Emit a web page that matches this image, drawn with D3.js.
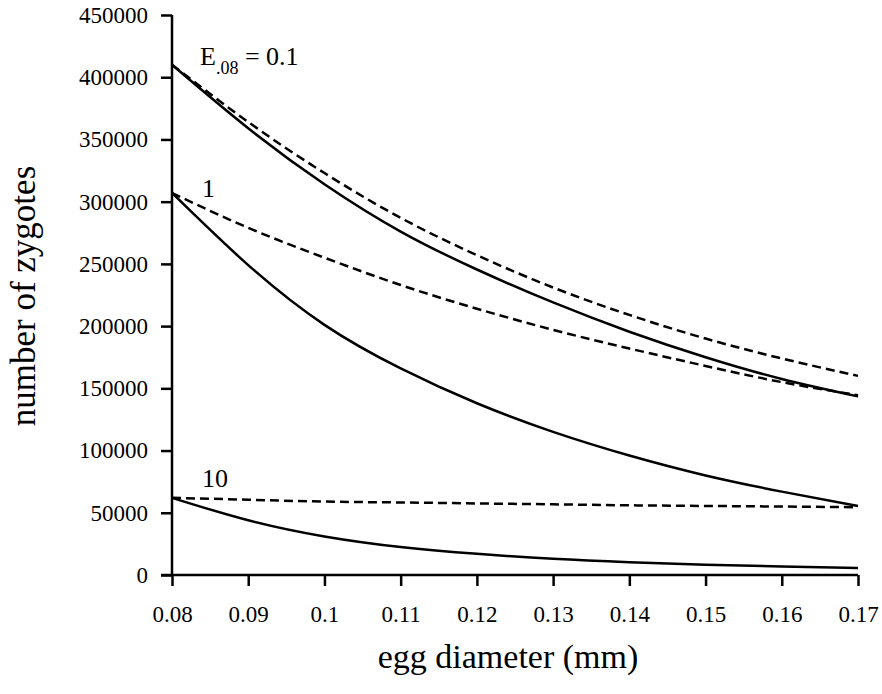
<!DOCTYPE html>
<html>
<head>
<meta charset="utf-8">
<script src="https://cdn.jsdelivr.net/npm/d3@7"></script>
<style>
  body { margin: 0; background: #fff; }
  svg text { font-family: "Liberation Serif", "Times New Roman", serif; fill: #000; }
</style>
</head>
<body>
<svg id="chart" width="882" height="694"></svg>
<script>
// egg diameter (mm)
var diam = [0.08, 0.09, 0.10, 0.11, 0.12, 0.13, 0.14, 0.15, 0.16, 0.17]

// E.08 = 0.1
var solid01  = [410000, 359000, 314000, 276000, 245500, 219000, 195500, 175000, 157500, 143500]
var dashed01 = [410000, 364000, 323000, 287000, 257000, 231000, 209000, 190000, 174000, 160000]
// E.08 = 1
var solid1   = [307000, 249000, 201000, 166000, 138000, 115000, 96000, 80000, 67000, 55500]
var dashed1  = [307000, 279000, 255000, 233000, 214000, 197000, 182000, 168000, 155000, 144500]
// E.08 = 10
var solid10  = [62000, 44000, 31000, 22500, 17000, 13000, 10300, 8300, 6800, 5600]
var dashed10 = [62000, 60500, 59000, 58300, 57500, 56800, 56000, 55500, 55000, 54500]

var xTicks = [0.08, 0.09, 0.1, 0.11, 0.12, 0.13, 0.14, 0.15, 0.16, 0.17]
var yTicks = [0, 50000, 100000, 150000, 200000, 250000, 300000, 350000, 400000, 450000]

var series = [
  {vals: solid01, dash: null},
  {vals: dashed01, dash: '9,5'},
  {vals: solid1, dash: null},
  {vals: dashed1, dash: '9,5'},
  {vals: solid10, dash: null},
  {vals: dashed10, dash: '9,5'}
]

var serif = '"Liberation Serif", "Times New Roman", serif'
var svg = d3.select('#chart')

var x = d3.scaleLinear().domain([0.08, 0.17]).range([172, 858])
var y = d3.scaleLinear().domain([0, 450000]).range([575, 15])

// axes
var yAxis = d3.axisLeft(y)
  .tickValues(yTicks)
  .tickSize(11)
  .tickPadding(13)
  .tickFormat(d3.format('d'))

var gy = svg.append('g')
  .attr('transform', 'translate(' + x(0.08) + ',0)')
  .attr('font-family', serif)
  .call(yAxis)
gy.attr('font-family', serif)
gy.select('.domain').remove()
gy.selectAll('line').attr('stroke', '#000').attr('stroke-width', 2.5)
gy.selectAll('text').style('font-family', serif).style('font-size', '23px')

var xAxis = d3.axisBottom(x)
  .tickValues(xTicks)
  .tickSize(11)
  .tickFormat(function(d){ return String(+d.toFixed(2)) })

var gx = svg.append('g')
  .attr('transform', 'translate(0,' + y(0) + ')')
  .call(xAxis)
gx.attr('font-family', serif)
gx.select('.domain').remove()
gx.selectAll('line').attr('stroke', '#000').attr('stroke-width', 2.5)
gx.selectAll('text').style('font-family', serif).style('font-size', '23px').attr('y', 47).attr('dy', 0)

// axis lines
svg.append('line')
  .attr('x1', x(0.08)).attr('x2', x(0.08))
  .attr('y1', y(0)).attr('y2', y(450000))
  .attr('stroke', '#000').attr('stroke-width', 2.5)
svg.append('line')
  .attr('x1', x(0.08) - 11).attr('x2', x(0.17))
  .attr('y1', y(0)).attr('y2', y(0))
  .attr('stroke', '#000').attr('stroke-width', 2.5)

// curves
var line = d3.line()
  .x(function(d, i){ return x(diam[i]) })
  .y(function(d){ return y(d) })
  .curve(d3.curveNatural)

svg.selectAll('path.curve')
  .data(series)
  .enter()
  .append('path')
  .attr('class', 'curve')
  .attr('d', function(d){ return line(d.vals) })
  .attr('fill', 'none')
  .attr('stroke', '#000')
  .attr('stroke-width', 2.5)
  .attr('stroke-dasharray', function(d){ return d.dash })

// labels on curves
var lab = svg.append('text').attr('x', 200).attr('y', 65).style('font-size', '26px')
lab.append('tspan').text('E')
lab.append('tspan').attr('dy', 9).style('font-size', '18px').text('.08')
lab.append('tspan').attr('dy', -9).text(' = 0.1')

svg.append('text').attr('x', 202).attr('y', 197).style('font-size', '26px').text('1')
svg.append('text').attr('x', 202).attr('y', 487).style('font-size', '26px').text('10')

// axis titles
svg.append('text')
  .attr('x', 508).attr('y', 668)
  .attr('text-anchor', 'middle')
  .style('font-size', '34px')
  .text('egg diameter (mm)')

svg.append('text')
  .attr('transform', 'translate(35,296) rotate(-90)')
  .attr('text-anchor', 'middle')
  .style('font-size', '35px')
  .text('number of zygotes')
</script>
</body>
</html>
